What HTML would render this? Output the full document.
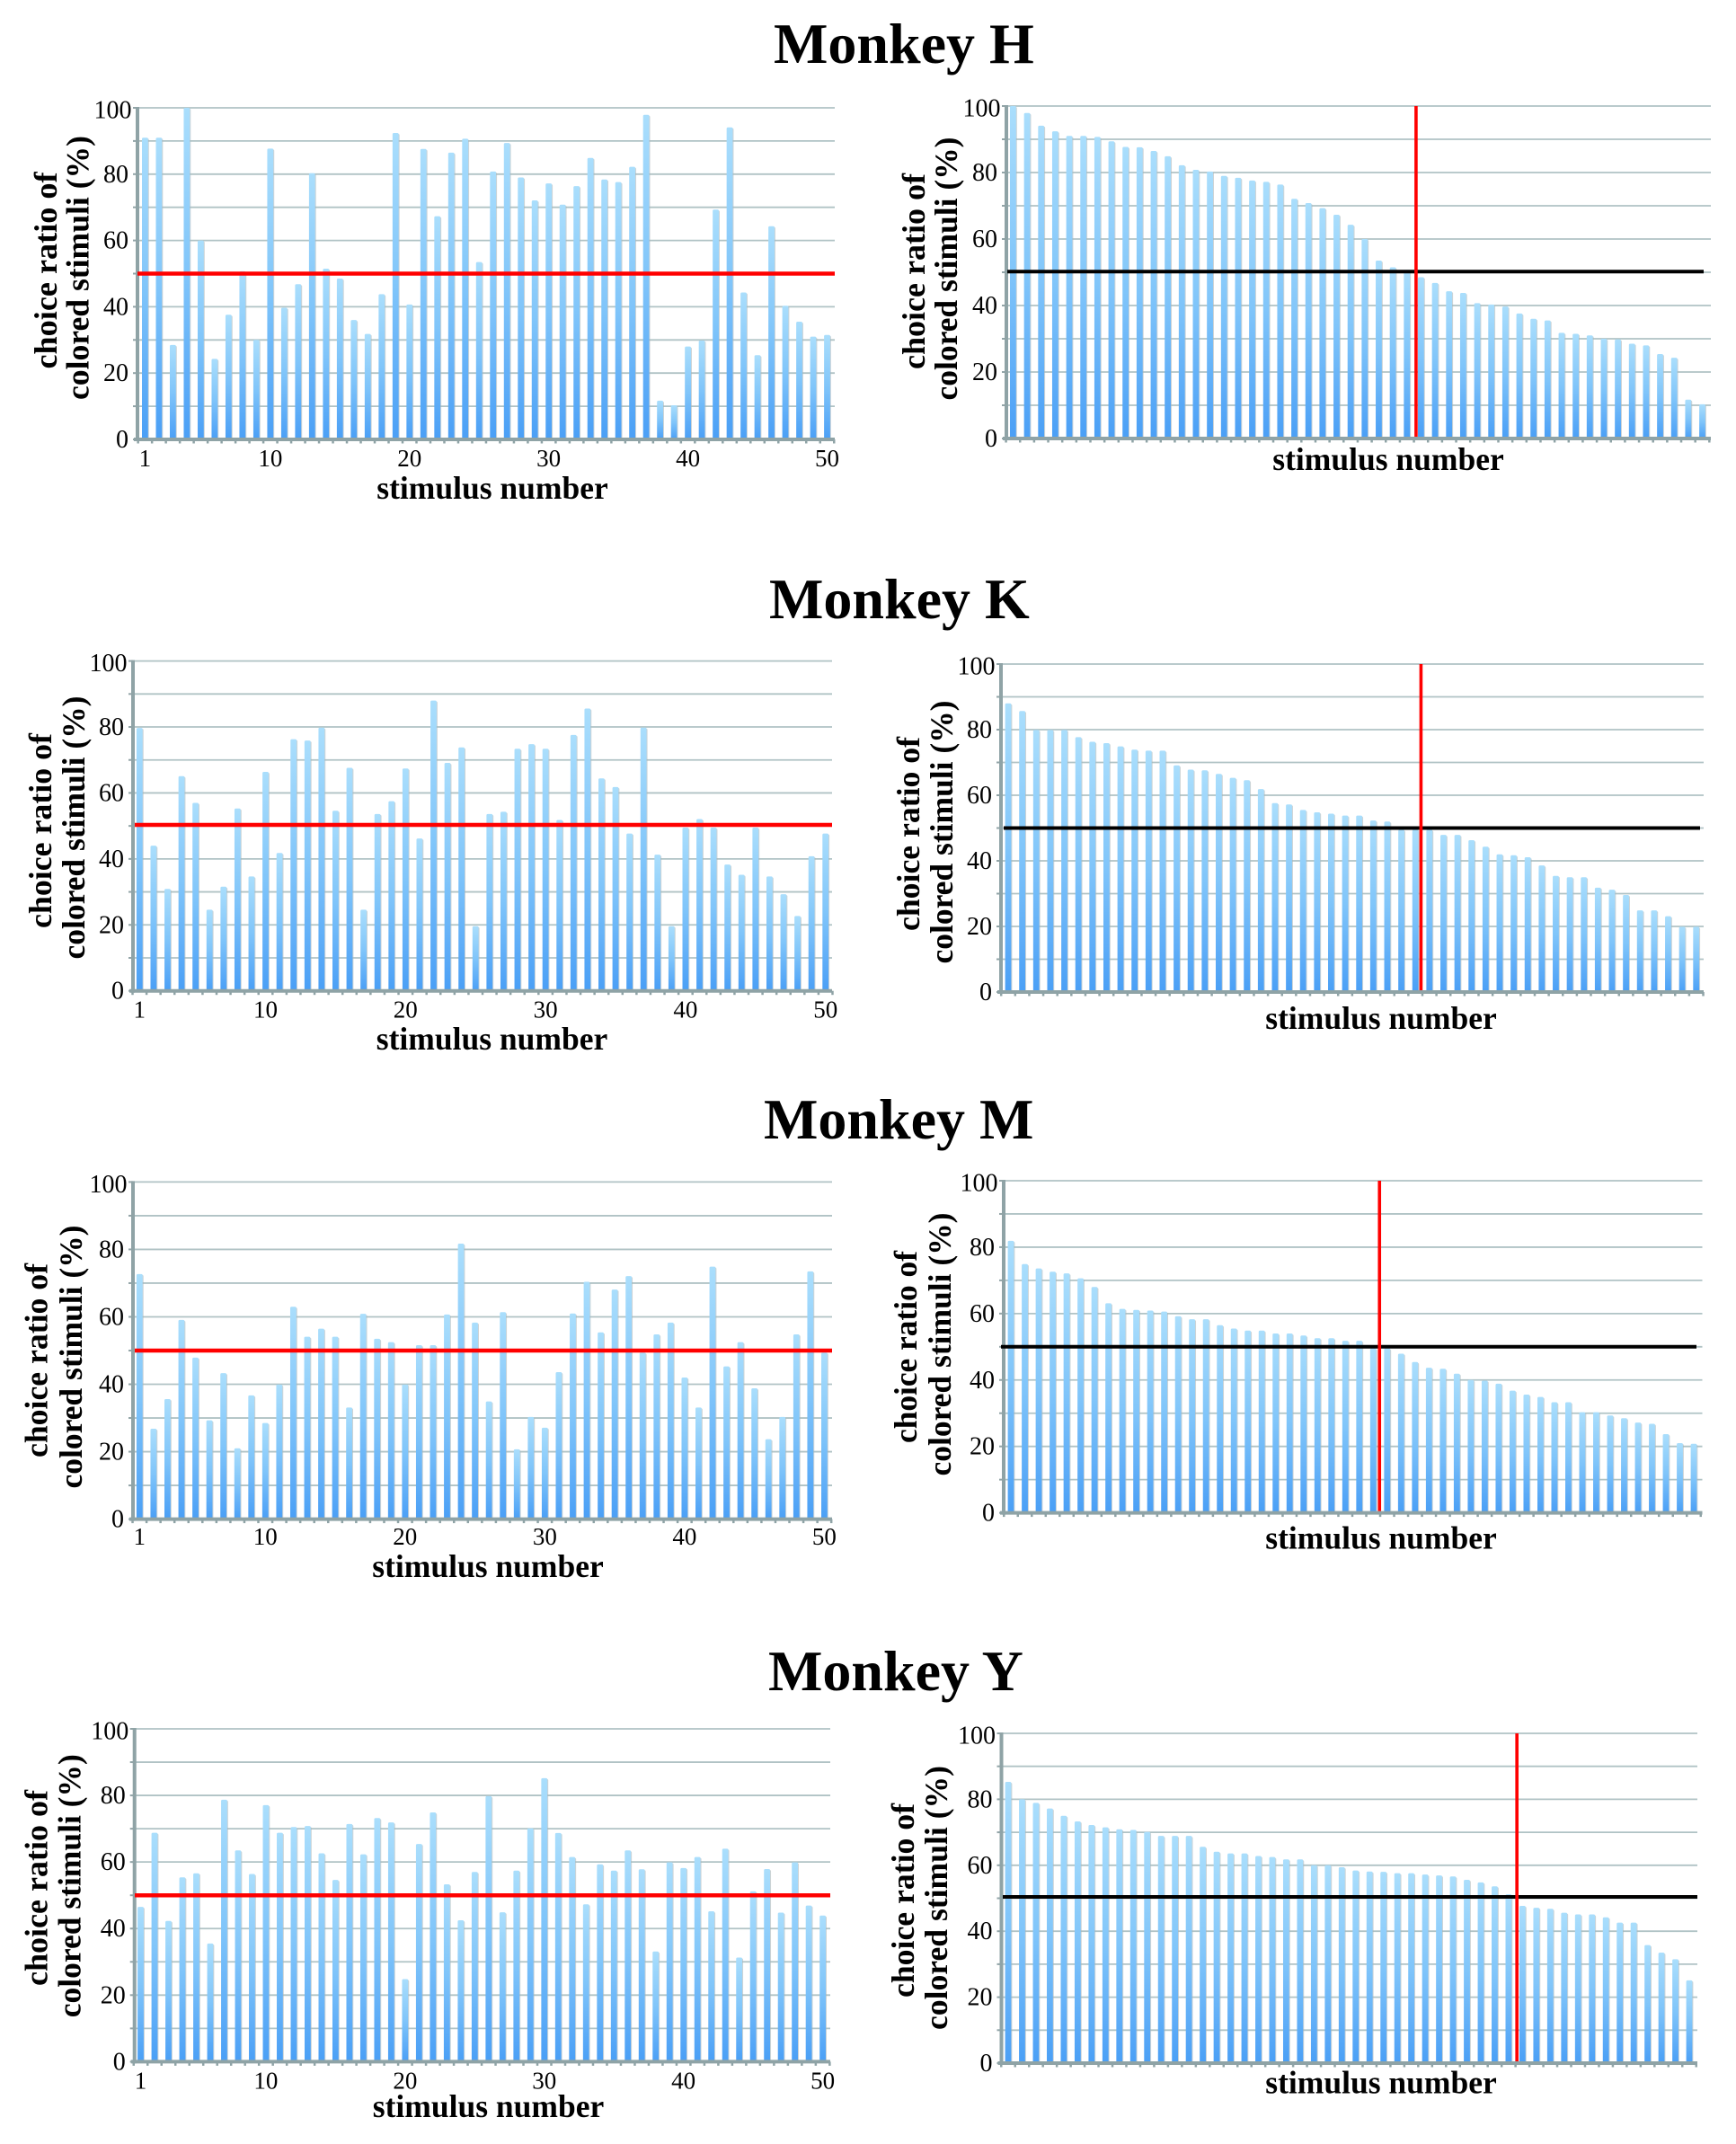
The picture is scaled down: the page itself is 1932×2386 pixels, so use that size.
<!DOCTYPE html>
<html lang="en">
<head>
<meta charset="utf-8">
<title>Monkey stimulus choice ratios</title>
<style>
html,body{margin:0;padding:0;background:#fff;}
svg{display:block;}
text{font-family:"Liberation Serif",serif;fill:#000;}
.title{font-size:64px;font-weight:bold;}
.ytitle{font-size:36px;font-weight:bold;text-anchor:middle;}
.xtitle{font-size:35.5px;font-weight:bold;text-anchor:middle;}
.ytick{font-size:28px;}
.xtick{font-size:27px;}
</style>
</head>
<body>
<svg id="figure" xmlns="http://www.w3.org/2000/svg" width="1932" height="2386" viewBox="0 0 1932 2386">
  <defs>
    <linearGradient id="barFill" x1="0" y1="0" x2="0" y2="1">
      <stop offset="0" stop-color="#aadefc"/>
      <stop offset="0.5" stop-color="#80c5fa"/>
      <stop offset="1" stop-color="#4a9ff6"/>
    </linearGradient>
  </defs>
  <rect x="0" y="0" width="1932" height="2386" fill="#ffffff"/>

  <text class="title" x="861" y="70">Monkey H</text>
  <text class="title" x="856" y="688">Monkey K</text>
  <text class="title" x="850" y="1267">Monkey M</text>
  <text class="title" x="855" y="1881">Monkey Y</text>

  <g id="charts"></g>

  <!-- Monkey H axis titles -->
  <text class="ytitle" transform="translate(63.2,301) rotate(-90)" textLength="219" lengthAdjust="spacingAndGlyphs">choice ratio of</text>
  <text class="ytitle" transform="translate(98.5,298) rotate(-90)" textLength="294" lengthAdjust="spacingAndGlyphs">colored stimuli (%)</text>
  <text class="xtitle" x="548" y="555">stimulus number</text>
  <text class="ytitle" transform="translate(1029.2,302) rotate(-90)" textLength="218" lengthAdjust="spacingAndGlyphs">choice ratio of</text>
  <text class="ytitle" transform="translate(1064.9,299) rotate(-90)" textLength="293" lengthAdjust="spacingAndGlyphs">colored stimuli (%)</text>
  <text class="xtitle" x="1545" y="523">stimulus number</text>

  <!-- Monkey K axis titles -->
  <text class="ytitle" transform="translate(57,924.5) rotate(-90)" textLength="217" lengthAdjust="spacingAndGlyphs">choice ratio of</text>
  <text class="ytitle" transform="translate(94,921) rotate(-90)" textLength="293" lengthAdjust="spacingAndGlyphs">colored stimuli (%)</text>
  <text class="xtitle" x="547.5" y="1168">stimulus number</text>
  <text class="ytitle" transform="translate(1023,928) rotate(-90)" textLength="216" lengthAdjust="spacingAndGlyphs">choice ratio of</text>
  <text class="ytitle" transform="translate(1060,926) rotate(-90)" textLength="293" lengthAdjust="spacingAndGlyphs">colored stimuli (%)</text>
  <text class="xtitle" x="1537" y="1145">stimulus number</text>

  <!-- Monkey M axis titles -->
  <text class="ytitle" transform="translate(52.5,1514) rotate(-90)" textLength="216" lengthAdjust="spacingAndGlyphs">choice ratio of</text>
  <text class="ytitle" transform="translate(90.9,1510) rotate(-90)" textLength="293" lengthAdjust="spacingAndGlyphs">colored stimuli (%)</text>
  <text class="xtitle" x="543" y="1755">stimulus number</text>
  <text class="ytitle" transform="translate(1020,1499) rotate(-90)" textLength="214" lengthAdjust="spacingAndGlyphs">choice ratio of</text>
  <text class="ytitle" transform="translate(1058.2,1496) rotate(-90)" textLength="293" lengthAdjust="spacingAndGlyphs">colored stimuli (%)</text>
  <text class="xtitle" x="1537" y="1723.5">stimulus number</text>

  <!-- Monkey Y axis titles -->
  <text class="ytitle" transform="translate(52.5,2101) rotate(-90)" textLength="218" lengthAdjust="spacingAndGlyphs">choice ratio of</text>
  <text class="ytitle" transform="translate(89.5,2098.7) rotate(-90)" textLength="293" lengthAdjust="spacingAndGlyphs">colored stimuli (%)</text>
  <text class="xtitle" x="543.5" y="2356">stimulus number</text>
  <text class="ytitle" transform="translate(1016.9,2115) rotate(-90)" textLength="216" lengthAdjust="spacingAndGlyphs">choice ratio of</text>
  <text class="ytitle" transform="translate(1053.8,2112) rotate(-90)" textLength="294" lengthAdjust="spacingAndGlyphs">colored stimuli (%)</text>
  <text class="xtitle" x="1537" y="2329.5">stimulus number</text>
</svg>

<script>
const yTickLabels = [0, 20, 40, 60, 80, 100];
const yGridValues = [0, 10, 20, 30, 40, 50, 60, 70, 80, 90, 100];
const xTickLabels = [1, 10, 20, 30, 40, 50];

const monkeyHByStimulus = [91,91,28.5,100,60,24.3,37.6,50.7,30,87.7,39.7,46.8,80.3,51.5,48.5,36,31.8,43.8,92.4,40.7,87.6,67.3,86.5,90.7,53.5,80.8,89.4,79,72.1,77.2,70.8,76.4,84.9,78.4,77.6,82.2,97.9,11.7,10.3,28,29.8,69.3,94.1,44.3,25.4,64.3,40.3,35.5,31,31.5];
const monkeyHRanked = [100,97.9,94.1,92.4,91,91,90.7,89.4,87.7,87.6,86.5,84.9,82.2,80.8,80.3,79,78.4,77.6,77.2,76.4,72.1,70.8,69.3,67.3,64.3,60,53.5,51.5,50.7,48.5,46.8,44.3,43.8,40.7,40.3,39.7,37.6,36,35.5,31.8,31.5,31,30,29.8,28.5,28,25.4,24.3,11.7,10.3];

const monkeyKByStimulus = [79.7,44,30.9,65.1,57,24.6,31.6,55.3,34.7,66.4,41.8,76.3,75.9,79.8,54.6,67.6,24.6,53.6,57.5,67.4,46.2,88,69.1,73.8,19.6,53.6,54.3,73.4,74.8,73.4,51.8,77.6,85.6,64.4,61.8,47.7,79.8,41.3,19.6,49.5,52.1,49.5,38.3,35.2,49.5,34.7,29.3,22.7,40.8,47.7];
const monkeyKRanked = [88,85.7,79.9,79.9,79.9,77.7,76.3,75.9,74.9,73.9,73.6,73.6,69.1,67.8,67.6,66.5,65.3,64.6,61.9,57.6,57.2,55.5,54.8,54.4,53.8,53.8,52.3,52,49.5,49.5,49.5,47.9,47.9,46.3,44.3,42,41.7,41.1,38.6,35.4,35,35,31.8,31.2,29.6,24.9,24.9,23.1,19.9,19.9];

const monkeyMByStimulus = [72.7,26.8,35.6,59.1,47.9,29.3,43.3,21,36.7,28.5,39.9,63,54.1,56.5,54.1,33.1,60.9,53.5,52.5,39.9,51.6,51.6,60.7,81.7,58.3,34.9,61.4,20.7,30.3,27.1,43.6,61,70.4,55.4,68.1,72.1,49.4,54.8,58.3,42,33.1,74.9,45.3,52.5,38.8,23.7,30.3,54.8,73.5,49.4];
const monkeyMRanked = [81.9,74.9,73.6,72.6,72.1,70.6,68,63.1,61.4,61.1,60.9,60.6,59.2,58.3,58.3,56.5,55.5,54.9,54.9,54,54,53.4,52.6,52.6,51.8,51.8,49.5,49.5,47.9,45.4,43.7,43.4,41.9,40,39.8,38.9,36.8,35.6,34.9,33.3,33.3,30.3,30.3,29.3,28.5,27.2,26.8,23.7,21,20.8];

const monkeyYByStimulus = [46.5,68.8,42.3,55.4,56.6,35.5,78.7,63.5,56.4,77.1,68.8,70.5,70.8,62.6,54.6,71.4,62.3,73.2,71.9,24.8,65.4,74.9,53.3,42.5,57,79.8,44.9,57.4,70.1,85.2,68.7,61.5,47.3,59.3,57.4,63.5,57.8,33.1,59.9,58.2,61.5,45.2,64,31.3,51.2,57.9,44.8,59.9,46.9,43.9];
const monkeyYRanked = [85.3,80,78.9,77.2,75,73.3,72.2,71.5,70.9,70.7,70.1,68.9,68.9,68.9,65.6,64.1,63.6,63.6,62.8,62.5,61.8,61.8,60,60,59.4,58.4,58.1,58,57.6,57.6,57.2,56.9,56.6,55.6,54.8,53.6,51.2,47.7,47.1,46.8,45.6,45.1,45.1,44.2,42.6,42.6,35.8,33.5,31.5,25.1];

// Chance-level lines and split rank.
const chanceLevel = 50;
const rankedSplit = { h: 29.65, k: 30.4, m: 27.45, y: 37.6 };

// Layout of each panel (separate from the data arrays above).
const panels = [
  { id:'h-left',  values:monkeyHByStimulus, left:153,  right:929,  top:120,    bottom:489,    first:161.4,  last:920.5,  ref:chanceLevel,     line:'#ff0000', refFrom:153,  refTo:929,  labels:true, lblDy:30 },
  { id:'h-right', values:monkeyHRanked,     left:1120, right:1904, top:118,    bottom:488,    first:1127.4, last:1894.5, ref:chanceLevel+0.2, line:'#000000', refFrom:1121, refTo:1896, split:rankedSplit.h },
  { id:'k-left',  values:monkeyKByStimulus, left:148,  right:926,  top:735.6,  bottom:1102.7, first:155.3,  last:918.7,  ref:chanceLevel+0.3, line:'#ff0000', refFrom:150,  refTo:926,  labels:true, lblDy:30 },
  { id:'k-right', values:monkeyKRanked,     left:1114, right:1896, top:739,    bottom:1104,   first:1122,   last:1887.7, ref:chanceLevel,     line:'#000000', refFrom:1117, refTo:1892, split:rankedSplit.k },
  { id:'m-left',  values:monkeyMByStimulus, left:148,  right:926,  top:1315.4, bottom:1690.6, first:155.3,  last:917.4,  ref:chanceLevel,     line:'#ff0000', refFrom:150,  refTo:926,  labels:true, lblDy:28.5 },
  { id:'m-right', values:monkeyMRanked,     left:1117, right:1894.5,top:1314,  bottom:1683.6, first:1125,   last:1885,   ref:chanceLevel,     line:'#000000', refFrom:1114, refTo:1888, split:rankedSplit.m },
  { id:'y-left',  values:monkeyYByStimulus, left:149.7,right:924,  top:1924,   bottom:2294.4, first:156.5,  last:915.6,  ref:chanceLevel,     line:'#ff0000', refFrom:150,  refTo:924,  labels:true, lblDy:30 },
  { id:'y-right', values:monkeyYRanked,     left:1114.5,right:1889,top:1929,   bottom:2296,   first:1122,   last:1880,   ref:chanceLevel+0.4, line:'#000000', refFrom:1116, refTo:1889, split:rankedSplit.y }
];

const SVG_NS = 'http://www.w3.org/2000/svg';
const root = document.getElementById('charts');

function make(tag, attrs, parent) {
  const el = document.createElementNS(SVG_NS, tag);
  for (const k in attrs) el.setAttribute(k, attrs[k]);
  parent.appendChild(el);
  return el;
}

function drawPanel(p) {
  const count = p.values.length;
  const band = (p.last - p.first) / (count - 1);
  const xScale = function (stimulus) { return p.first + (stimulus - 1) * band; };
  const yScale = function (value) { return p.bottom - (value / 100) * (p.bottom - p.top); };

  const g = make('g', {}, root);
  
  

  // Gridlines and y ticks
  yGridValues.forEach(function (v) {
    if (v !== 0) {
      const grid = make('line', { x1:p.left, x2:p.right, y1:yScale(v), y2:yScale(v), stroke:'#b0c3c5', 'stroke-width':1.8 }, g);
      
      
    }
    const tick = make('line', { x1:p.left - 5, x2:p.left, y1:yScale(v), y2:yScale(v), stroke:'#92a4a7', 'stroke-width':2 }, g);
    
    
  });

  // Bars with a faint grey edge on the right
  p.values.forEach(function (v, i) {
    const w = 6.8;
    const cx = xScale(i + 1);
    const top = yScale(v);
    const edge = make('rect', { x:cx - w / 2 + 1, y:top + 1, width:w, height:Math.max(0, p.bottom - top - 1), rx:1.5, fill:'#aab6b9', 'fill-opacity':0.6 }, g);
    
    
    const bar = make('rect', { x:cx - w / 2, y:top, width:w, height:Math.max(0, p.bottom - top), rx:1.5, fill:'url(#barFill)' }, g);
    
    
  });

  // Axes
  const yAxis = make('line', { x1:p.left, x2:p.left, y1:p.top - 1, y2:p.bottom + 2, stroke:'#8fa3a6', 'stroke-width':4 }, g);
  
  
  const xAxis = make('line', { x1:p.left - 4, x2:p.right, y1:p.bottom, y2:p.bottom, stroke:'#8fa3a6', 'stroke-width':4 }, g);
  
  

  for (let k = 0; k <= count; k++) {
    const tx = xScale(k + 0.5);
    const xt = make('line', { x1:tx, x2:tx, y1:p.bottom, y2:p.bottom + 4.5, stroke:'#8fa3a6', 'stroke-width':2.5 }, g);
    
    
  }

  // Reference lines
  const ref = make('line', { x1:p.refFrom, x2:p.refTo, y1:yScale(p.ref), y2:yScale(p.ref), stroke:p.line, 'stroke-width':p.split ? 4 : 4.5 }, g);
  
  

  if (p.split) {
    const sx = xScale(p.split);
    const vline = make('line', { x1:sx, x2:sx, y1:yScale(100), y2:yScale(0) - 2, stroke:'#ff0000', 'stroke-width':3.6 }, g);
    
    
  }

  // Tick labels
  yTickLabels.forEach(function (v) {
    const isHundred = v === 100;
    const label = make('text', { class:'ytick', x:p.left - (isHundred ? 6.5 : 10), y:yScale(v) + (isHundred ? 11.5 : 9), 'text-anchor':'end' }, g);
    label.textContent = String(v);
    
    
  });

  if (p.labels) {
    xTickLabels.forEach(function (n) {
      const label = make('text', { class:'xtick', x:xScale(n), y:p.bottom + p.lblDy, 'text-anchor':'middle' }, g);
      label.textContent = String(n);
      
      
    });
  }
}

panels.forEach(drawPanel);
</script>
</body>
</html>
